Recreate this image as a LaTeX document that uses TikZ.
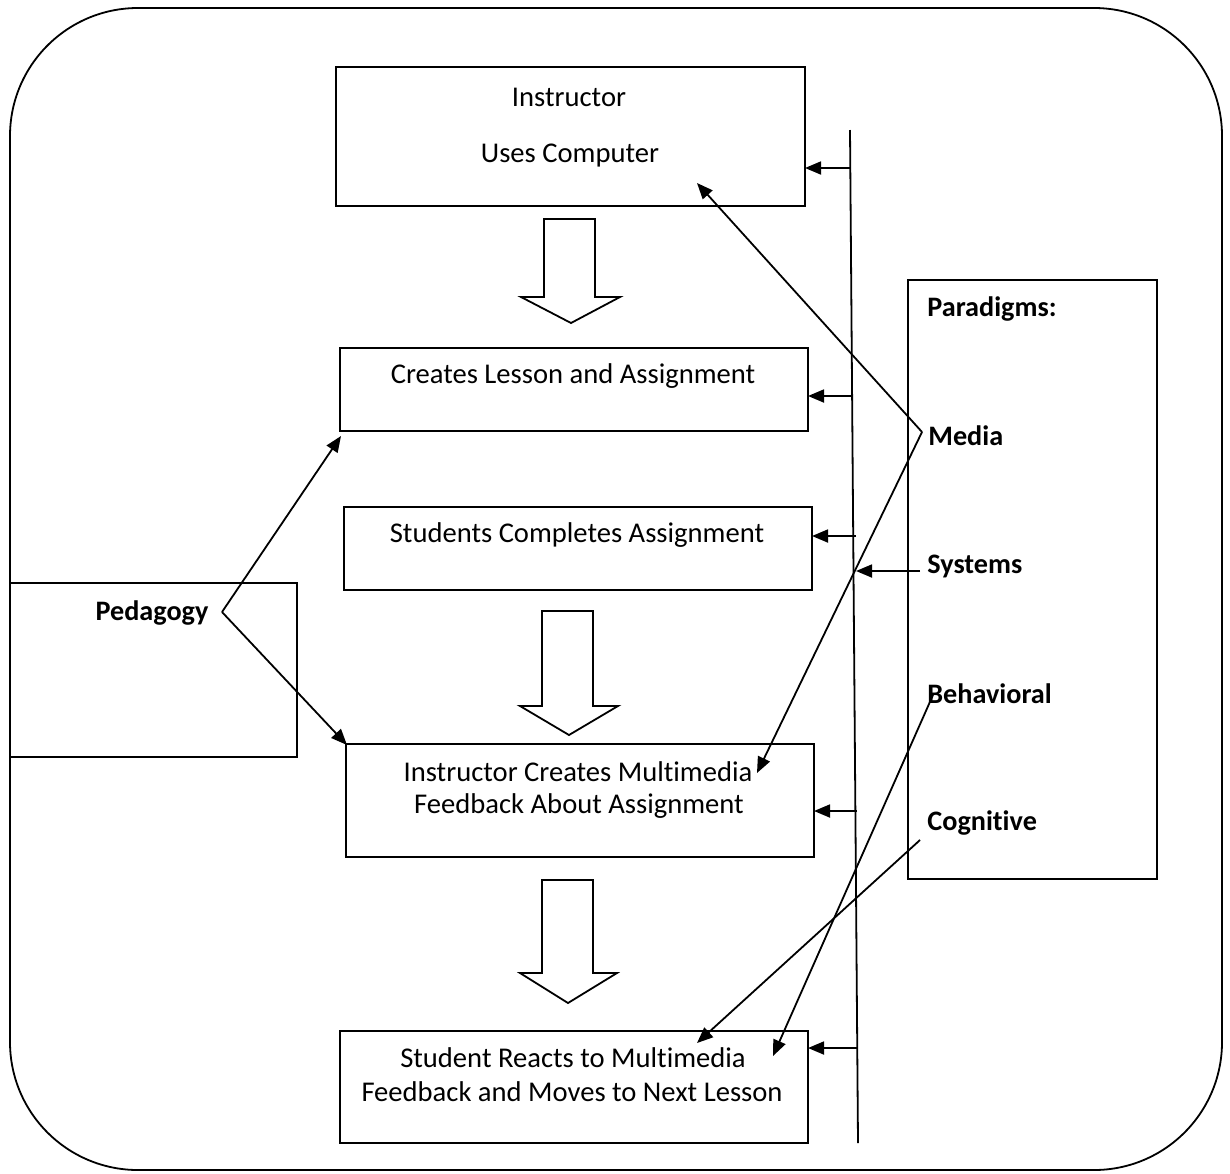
\documentclass[tikz,border=0pt]{standalone}
\usepackage{fontspec}
\setmainfont{Carlito}[Ligatures={NoCommon}]
\usetikzlibrary{arrows.meta,calc}
\begin{document}
\begin{tikzpicture}[x=0.5pt,y=-0.5pt,
  box/.style={draw,line width=0.9pt,inner sep=0pt,outer sep=0pt,anchor=north west},
  txt/.style={font=\fontsize{14.3}{17}\selectfont,inner sep=0pt},
  btxt/.style={font=\fontsize{14.1}{17}\selectfont\bfseries,inner sep=0pt},
  ltxt/.style={btxt,anchor=west},
  arr/.style={line width=0.9pt,-{Triangle[length=8pt,width=6.5pt]}},
  lin/.style={line width=0.9pt},
  blockarrow/.style={draw,line width=0.9pt,fill=white,line join=miter}]
\useasboundingbox (0,0) rectangle (1230,1173);
% outer frame
\draw[line width=0.9pt,rounded corners=64pt] (10,8) rectangle (1222,1170);

% boxes
\node[box,minimum width=234.5pt,minimum height=69.5pt] (b1) at (336,67) {};
\draw[line width=1.4pt] (b1.north west) -- (b1.north east);
\node[box,minimum width=234pt,minimum height=41.5pt] (b2) at (340,348) {};
\node[box,minimum width=234pt,minimum height=41.5pt] (b3) at (344,507) {};
\node[box,minimum width=234pt,minimum height=56.5pt] (b4) at (346,744) {};
\node[box,minimum width=234pt,minimum height=56pt] (b5) at (340,1031) {};
\node[box,minimum width=143.5pt,minimum height=87pt] (ped) at (10,583) {};
\node[box,minimum width=124.5pt,minimum height=299.5pt] (par) at (908,280) {};

% box texts
\node[txt] (t1a) at (569,97) {Instructor};
\node[txt] (t1b) at (570,156) {Uses Computer};
\node[txt] (t2) at (573,376) {Creates Lesson and Assignment};
\node[txt] (t3) at (577,535) {Students Completes Assignment};
\node[txt] (t4a) at (578,772) {Instructor Creates Multimedia};
\node[txt] (t4b) at (579,806) {Feedback About Assignment};
\node[txt] (t5a) at (573,1058) {Student Reacts to Multimedia};
\node[txt] (t5b) at (572,1092) {Feedback and Moves to Next Lesson};
\node[btxt] (tped) at (152,613) {Pedagogy};
\node[ltxt] (tpar) at (927,309) {Paradigms:};
\node[ltxt] (tmed) at (928,436) {Media};
\node[ltxt] (tsys) at (927,566) {Systems};
\node[ltxt] (tbeh) at (927,694) {Behavioral};
\node[ltxt] (tcog) at (927,823) {Cognitive};

% block arrows
\draw[blockarrow] (544,219) -- (595,219) -- (595,297) -- (620,297) -- (571,323) -- (521,297) -- (544,297) -- cycle;
\draw[blockarrow] (542,611) -- (593,611) -- (593,706) -- (618,706) -- (569,735) -- (520,706) -- (542,706) -- cycle;
\draw[blockarrow] (542,880) -- (593,880) -- (593,973) -- (617,973) -- (568,1003) -- (520,973) -- (542,973) -- cycle;

% vertical line
\coordinate (vt) at (850,130);
\coordinate (vb) at (858,1143);
\draw[lin] (vt) -- (vb);
\coordinate (v1) at (850,168);
\coordinate (v2) at (851,396);
\coordinate (v3) at (856,536);
\coordinate (v4) at (857,811);
\coordinate (v5) at (857,1048);
\draw[arr] (v1) -- (v1 -| b1.east);
\draw[arr] (v2) -- (v2 -| b2.east);
\draw[arr] (v3) -- (v3 -| b3.east);
\draw[arr] (v4) -- (v4 -| b4.east);
\draw[arr] (v5) -- (v5 -| b5.east);

% systems
\coordinate (sy) at (920,571);
\coordinate (vs) at (856,571);
\draw[arr] (sy) -- (vs);

% media
\coordinate (m) at (922,432);
\coordinate (m1) at (697,183);
\coordinate (m2) at (757,773);
\draw[arr] (m) -- (m1);
\draw[arr] (m) -- (m2);

% behavioral & cognitive
\coordinate (be) at (933,695);
\coordinate (be1) at (773,1056);
\draw[arr] (be) -- (be1);
\coordinate (co) at (920,840);
\coordinate (co1) at (697,1043);
\draw[arr] (co) -- (co1);

% pedagogy
\coordinate (p) at (222,612);
\coordinate (p1) at (341,436);
\coordinate (p2) at (347,745);
\draw[arr] (p) -- (p1);
\draw[arr] (p) -- (p2);
\end{tikzpicture}
\end{document}
